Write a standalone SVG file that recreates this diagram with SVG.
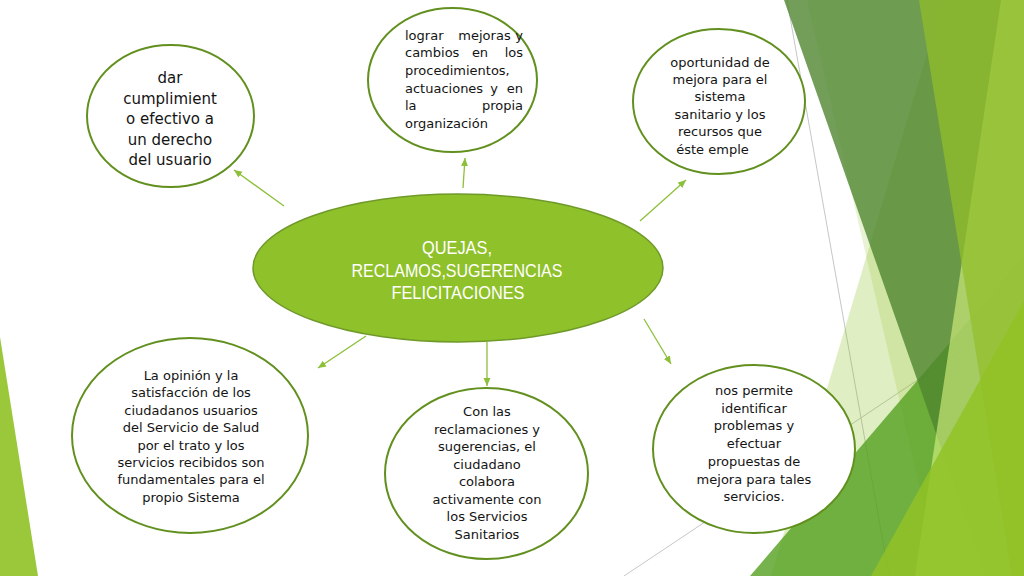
<svg xmlns="http://www.w3.org/2000/svg" width="1024" height="576" viewBox="0 0 1024 576">
  <style>
    .node { fill: #ffffff; stroke: #62901f; stroke-width: 2; }
    .t { font-family: "DejaVu Sans", "Liberation Sans", sans-serif; font-size: 13px; fill: #141414; }
    .tc { text-anchor: middle; }
    .big { font-size: 15px; }
    .center-t { font-family: "Liberation Sans", "DejaVu Sans", sans-serif; font-size: 19px; fill: #ffffff; text-anchor: middle; }
    .conn { stroke: #8dc03a; stroke-width: 1.3; fill: none; marker-end: url(#arrow); }
    .deco-line { stroke: #c6c6c6; stroke-width: 1; fill: none; }
  </style>
  <defs>
    <marker id="arrow" markerUnits="userSpaceOnUse" markerWidth="9" markerHeight="8" refX="8" refY="3.5" orient="auto">
      <path d="M0,0 L8,3.5 L0,7 z" fill="#8dc03a"/>
    </marker>
  </defs>

  <rect width="1024" height="576" fill="#ffffff"/>

  <g id="decoration">
    <line class="deco-line" x1="787" y1="0" x2="889" y2="576"/>
    <line class="deco-line" x1="624" y1="576" x2="1024" y2="309"/>
    <polygon points="943,0 1024,0 1024,576 771,576" fill="#90C226" fill-opacity="0.28"/>
    <polygon points="807,0 1024,0 1024,576 940,576" fill="#90C226" fill-opacity="0.2"/>
    <polygon points="750,576 1024,256 1024,576" fill="#54A021" fill-opacity="0.8"/>
    <polygon points="784,0 1024,0 1024,576 986,576" fill="#4f862f" fill-opacity="0.8"/>
    <polygon points="1001,0 1024,0 1024,576 915,576" fill="#daf584" fill-opacity="0.6"/>
    <polygon points="919,0 1024,0 1024,576 1012,576" fill="#93be2a" fill-opacity="0.72"/>
    <polygon points="871,576 1024,301 1024,576" fill="#90C226" fill-opacity="0.85"/>
    <polygon points="0,337 38,576 0,576" fill="#90C226" fill-opacity="0.9"/>
  </g>

  <g id="connectors">
    <line class="conn" x1="284" y1="206" x2="234" y2="170"/>
    <line class="conn" x1="463" y1="188" x2="465" y2="158"/>
    <line class="conn" x1="640" y1="221" x2="686" y2="180"/>
    <line class="conn" x1="366" y1="336" x2="318" y2="368"/>
    <line class="conn" x1="487" y1="342" x2="487" y2="386"/>
    <line class="conn" x1="644" y1="319" x2="671" y2="364"/>
  </g>

  <g id="node-center">
    <ellipse cx="458" cy="268" rx="205" ry="74" fill="#8fc12a" stroke="#6f9a2a" stroke-width="1.5"/>
    <text class="center-t" x="457" y="254" textLength="70" lengthAdjust="spacingAndGlyphs">QUEJAS,</text>
    <text class="center-t" x="457" y="277" textLength="211" lengthAdjust="spacingAndGlyphs">RECLAMOS,SUGERENCIAS</text>
    <text class="center-t" x="458" y="299" textLength="133" lengthAdjust="spacingAndGlyphs">FELICITACIONES</text>
  </g>

  <g id="node-derecho">
    <ellipse class="node" cx="170.5" cy="116" rx="83.5" ry="71"/>
    <text class="t big tc" x="170" y="83">dar</text>
    <text class="t big tc" x="170" y="103.5">cumplimient</text>
    <text class="t big tc" x="170" y="124">o efectivo a</text>
    <text class="t big tc" x="170" y="144.5">un derecho</text>
    <text class="t big tc" x="170" y="165">del usuario</text>
  </g>

  <g id="node-mejoras">
    <ellipse class="node" cx="452.5" cy="80" rx="84.5" ry="72"/>
    <text class="t" x="405" y="39.5">lograr</text>
    <text class="t tc" x="484.5" y="39.5">mejoras</text>
    <text class="t" x="523" y="39.5" text-anchor="end">y</text>
    <text class="t" x="405" y="57.2">cambios</text>
    <text class="t tc" x="480" y="57.2">en</text>
    <text class="t" x="523" y="57.2" text-anchor="end">los</text>
    <text class="t" x="405" y="74.9">procedimientos,</text>
    <text class="t" x="405" y="92.6">actuaciones</text>
    <text class="t tc" x="494" y="92.6">y</text>
    <text class="t" x="523" y="92.6" text-anchor="end">en</text>
    <text class="t" x="405" y="110.3">la</text>
    <text class="t" x="523" y="110.3" text-anchor="end">propia</text>
    <text class="t" x="405" y="128">organización</text>
  </g>

  <g id="node-oportunidad">
    <ellipse class="node" cx="719" cy="101.5" rx="86" ry="72.5"/>
    <text class="t tc" x="720" y="66.5">oportunidad de</text>
    <text class="t tc" x="720" y="83.9">mejora para el</text>
    <text class="t tc" x="720" y="101.3">sistema</text>
    <text class="t tc" x="720" y="118.7">sanitario y los</text>
    <text class="t tc" x="720" y="136.1">recursos que</text>
    <text class="t tc" x="712.5" y="153.5">éste emple</text>
  </g>

  <g id="node-opinion">
    <ellipse class="node" cx="190" cy="435.5" rx="118" ry="97.5"/>
    <text class="t tc" x="191" y="380">La opinión y la</text>
    <text class="t tc" x="191" y="397.4">satisfacción de los</text>
    <text class="t tc" x="191" y="414.8">ciudadanos usuarios</text>
    <text class="t tc" x="191" y="432.2">del Servicio de Salud</text>
    <text class="t tc" x="191" y="449.6">por el trato y los</text>
    <text class="t tc" x="191" y="467">servicios recibidos son</text>
    <text class="t tc" x="191" y="484.4">fundamentales para el</text>
    <text class="t tc" x="191" y="501.8">propio Sistema</text>
  </g>

  <g id="node-colabora">
    <ellipse class="node" cx="486.5" cy="473.5" rx="101.5" ry="85.5"/>
    <text class="t tc" x="487" y="416">Con las</text>
    <text class="t tc" x="487" y="433.5">reclamaciones y</text>
    <text class="t tc" x="487" y="451">sugerencias, el</text>
    <text class="t tc" x="487" y="468.5">ciudadano</text>
    <text class="t tc" x="487" y="486">colabora</text>
    <text class="t tc" x="487" y="503.5">activamente con</text>
    <text class="t tc" x="487" y="521">los Servicios</text>
    <text class="t tc" x="487" y="538.5">Sanitarios</text>
  </g>

  <g id="node-problemas">
    <ellipse class="node" cx="754" cy="449" rx="101" ry="84"/>
    <text class="t tc" x="754" y="395">nos permite</text>
    <text class="t tc" x="754" y="412.7">identificar</text>
    <text class="t tc" x="754" y="430.4">problemas y</text>
    <text class="t tc" x="754" y="448.1">efectuar</text>
    <text class="t tc" x="754" y="465.8">propuestas de</text>
    <text class="t tc" x="754" y="483.5">mejora para tales</text>
    <text class="t tc" x="754" y="501.2">servicios.</text>
  </g>
</svg>
